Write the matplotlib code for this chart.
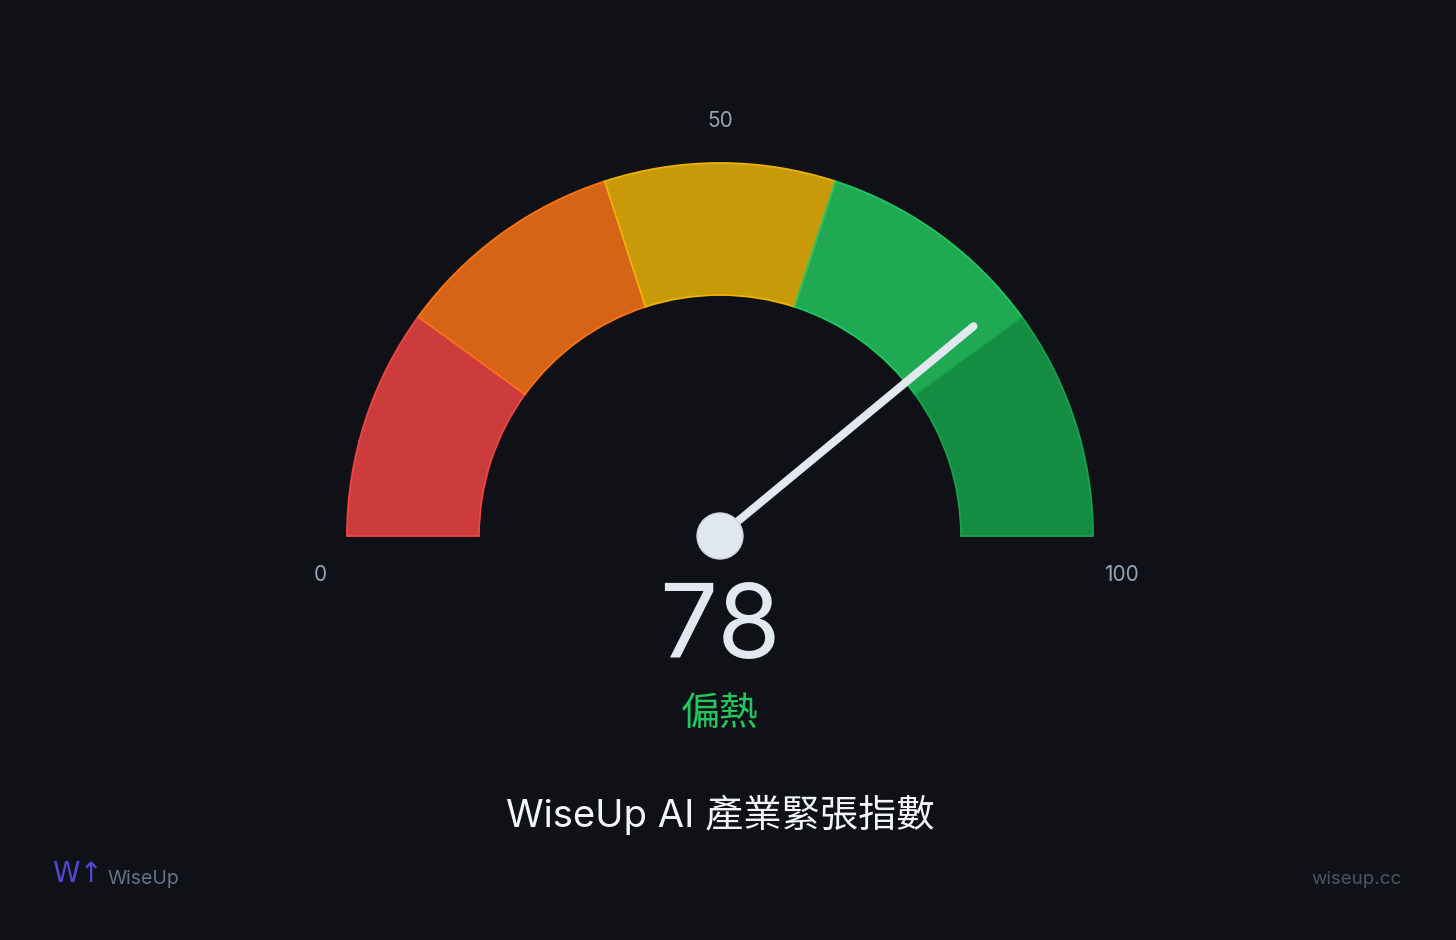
import numpy as np
import matplotlib.pyplot as plt
from matplotlib.patches import Wedge, Circle

# gauge data
bounds = [0, 20, 40, 60, 80, 100]
band_colors = ['#ef4444', '#f97316', '#eab308', '#22c55e', '#16a34a']
value = 78
status = '偏熱'
title = 'WiseUp AI 產業緊張指數'
tick_vals = [0, 50, 100]

bg = '#0f1117'
W, H = 1456, 940

fig = plt.figure(figsize=(W / 100, H / 100), dpi=100, facecolor=bg)
ax = fig.add_axes([0, 0, 1, 1])
ax.set_xlim(0, W)
ax.set_ylim(0, H)
ax.axis('off')
ax.set_facecolor(bg)

cx, cy = 720, H - 536
r_out, r_in = 373, 241

def ang(v):
    return 180 - v / 100 * 180

for i, c in enumerate(band_colors):
    w = Wedge((cx, cy), r_out, ang(bounds[i + 1]), ang(bounds[i]), width=r_out - r_in,
              facecolor=c, alpha=0.85, edgecolor='none', zorder=2)
    ax.add_patch(w)
    w2 = Wedge((cx, cy), r_out, ang(bounds[i + 1]), ang(bounds[i]), width=r_out - r_in,
               facecolor='none', edgecolor=c, lw=1.3, zorder=3)
    ax.add_patch(w2)

# needle
a = np.radians(ang(value))
L = 329
ax.plot([cx, cx + L * np.cos(a)], [cy, cy + L * np.sin(a)], color='#e2e8f0',
        lw=5.8, solid_capstyle='round', zorder=5)
ax.add_patch(Circle((cx, cy), 23, facecolor='#e2e8f0', edgecolor='#cbd5e1', lw=1, zorder=6))

# tick labels
tick_col = '#94a3b8'
tick_pos = {0: (320, 575), 50: (720, 121), 100: (1121, 575)}
for t in tick_vals:
    x, y = tick_pos[t]
    ax.text(x, H - y, str(t), color=tick_col, fontsize=15, ha='center', va='center',
            family=['Inter', 'DejaVu Sans'])

# value and status
ax.text(720, H - 631, str(value), color='#e2e8f0', fontsize=74, ha='center', va='center',
        family=['Inter', 'DejaVu Sans'], fontweight='normal')
ax.text(720, H - 714, status, color='#22c55e', fontsize=28, ha='center', va='center',
        family=['Noto Sans CJK TC', 'DejaVu Sans'])

ax.text(720, H - 815, title, color='#f1f5f9', fontsize=27.5, ha='center', va='center',
        family=['Inter', 'Noto Sans CJK TC', 'DejaVu Sans'])

# footer
ax.text(52, H - 874, 'W↑', color='#5146d6', fontsize=20, ha='left', va='center',
        family=['DejaVu Sans'])
ax.text(108, H - 879, 'WiseUp', color='#64748b', fontsize=14, ha='left', va='center',
        family=['Inter', 'DejaVu Sans'])
ax.text(1402, H - 879, 'wiseup.cc', color='#4b5563', fontsize=13.5, ha='right', va='center',
        family=['Inter', 'DejaVu Sans'])

fig.savefig('out.png', dpi=100, facecolor=bg)
